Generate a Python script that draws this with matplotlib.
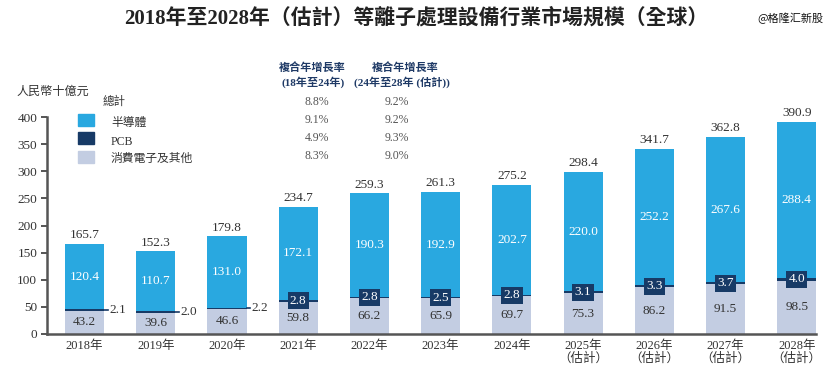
import matplotlib
matplotlib.use("Agg")
import matplotlib.pyplot as plt
from matplotlib.patches import Rectangle

# ------------------------------------------------------------------
# Data
# ------------------------------------------------------------------
years = ["2018年", "2019年", "2020年", "2021年", "2022年", "2023年", "2024年",
         "2025年\n（估計）", "2026年\n（估計）", "2027年\n（估計）", "2028年\n（估計）"]
consumer = [43.2, 39.6, 46.6, 59.8, 66.2, 65.9, 69.7, 75.3, 86.2, 91.5, 98.5]
pcb = [2.1, 2.0, 2.2, 2.8, 2.8, 2.5, 2.8, 3.1, 3.3, 3.7, 4.0]
semi = [120.4, 110.7, 131.0, 172.1, 190.3, 192.9, 202.7, 220.0, 252.2, 267.6, 288.4]
totals = [165.7, 152.3, 179.8, 234.7, 259.3, 261.3, 275.2, 298.4, 341.7, 362.8, 390.9]

legend_labels = ["半導體", "PCB", "消費電子及其他"]
cagr_18_24 = ["8.8%", "9.1%", "4.9%", "8.3%"]
cagr_24_28 = ["9.2%", "9.2%", "9.3%", "9.0%"]

C_SEMI = "#29a8e0"
C_PCB = "#173a66"
C_CONS = "#c3cde2"
C_TEXT = "#333333"
C_HEAD = "#1f3a66"

FONT = ["Liberation Serif", "Noto Sans CJK TC", "DejaVu Sans"]
plt.rcParams["font.family"] = FONT

W, H = 830, 376


def fx(px):
    return px / W


def fy(py):
    return 1 - py / H


fig = plt.figure(figsize=(8.3, 3.76), dpi=100)
ax = fig.add_axes([fx(47), fy(334), fx(816) - fx(47), 217 / H])

x = list(range(len(years)))
bw = 0.55
bottom_pcb = consumer
bottom_semi = [c + p for c, p in zip(consumer, pcb)]

ax.bar(x, consumer, width=bw, color=C_CONS, zorder=2)
ax.bar(x, pcb, width=bw, bottom=bottom_pcb, color=C_PCB, zorder=2)
ax.bar(x, semi, width=bw, bottom=bottom_semi, color=C_SEMI, zorder=2)

for i in x:
    # totals above bars
    ax.annotate(f"{totals[i]:.1f}", (i, totals[i]), xytext=(0, 2),
                textcoords="offset points", ha="center", va="bottom",
                fontsize=9.5, color=C_TEXT)
    # semiconductor inside
    ax.text(i, bottom_semi[i] + semi[i] / 2, f"{semi[i]:.1f}", ha="center",
            va="center", fontsize=9.5, color="white")
    # consumer inside
    ax.text(i, consumer[i] / 2, f"{consumer[i]:.1f}", ha="center",
            va="center", fontsize=9.5, color=C_TEXT)
    # pcb
    ymid = consumer[i] + pcb[i] / 2
    if i < 3:
        ax.plot([i + bw / 2, i + bw / 2 + 0.05], [ymid, ymid], color=C_PCB,
                lw=1.2, zorder=3, clip_on=False)
        ax.text(i + bw / 2 + 0.07, ymid, f"{pcb[i]:.1f}", ha="left",
                va="center", fontsize=9.5, color=C_TEXT)
    else:
        ax.text(i, ymid, f"{pcb[i]:.1f}", ha="center", va="center",
                fontsize=9.5, color="white", zorder=4,
                bbox=dict(boxstyle="square,pad=0.18", fc=C_PCB, ec="none"))

# ------------------------------------------------------------------
# Axes formatting
# ------------------------------------------------------------------
ax.set_xlim(-0.527, 10.27)
ax.set_ylim(0, 400)
ax.set_yticks(range(0, 401, 50))
ax.set_xticks(x)
ax.set_xticklabels(years, fontsize=9, color=C_TEXT, linespacing=1.05)
ax.tick_params(axis="x", length=0, pad=4)
ax.tick_params(axis="y", direction="out", length=4, width=1.4,
               color="#555555", labelsize=9.5, labelcolor=C_TEXT, pad=3)
for side in ["top", "right"]:
    ax.spines[side].set_visible(False)
for side in ["left", "bottom"]:
    ax.spines[side].set_color("#555555")
    ax.spines[side].set_linewidth(1.8)

# ------------------------------------------------------------------
# Title, unit, legend, CAGR table
# ------------------------------------------------------------------
fig.text(fx(416), fy(18), "2018年至2028年（估計）等離子處理設備行業市場規模（全球）",
         ha="center", va="center", fontsize=15, fontweight="bold", color="#222222")
fig.text(fx(790), fy(18), "@格隆汇新股", ha="center", va="center", fontsize=8,
         color="#111111", family=["Noto Sans CJK SC", "DejaVu Sans"])
fig.text(fx(16), fy(92), "人民幣十億元", ha="left", va="center", fontsize=8.7,
         color=C_TEXT)

fig.text(fx(103), fy(102), "總計", ha="left", va="center", fontsize=8.3, color=C_TEXT)
sq_y = [120, 138, 157]
lab_y = [123, 142, 159]
for col, sy, ly, lab in zip([C_SEMI, C_PCB, C_CONS], sq_y, lab_y, legend_labels):
    fig.patches.append(Rectangle((fx(78), fy(sy + 6)), fx(94) - fx(78), 12 / H,
                                 transform=fig.transFigure, color=col))
    fig.text(fx(111), fy(ly), lab, ha="left", va="center", fontsize=8.5, color=C_TEXT)

fig.text(fx(312), fy(68), "複合年增長率", ha="center", va="center", fontsize=8,
         fontweight="bold", color=C_HEAD)
fig.text(fx(313), fy(82), "(18年至24年)", ha="center", va="center", fontsize=8,
         fontweight="bold", color=C_HEAD)
fig.text(fx(405), fy(68), "複合年增長率", ha="center", va="center", fontsize=8,
         fontweight="bold", color=C_HEAD)
fig.text(fx(402), fy(82), "(24年至28年 (估計))", ha="center", va="center", fontsize=8,
         fontweight="bold", color=C_HEAD)

row_y = [102, 120, 138, 156]
for ry, a, b in zip(row_y, cagr_18_24, cagr_24_28):
    fig.text(fx(317), fy(ry), a, ha="center", va="center", fontsize=8.5, color="#555555")
    fig.text(fx(397), fy(ry), b, ha="center", va="center", fontsize=8.5, color="#555555")

fig.savefig("out.png", dpi=100)
plt.close(fig)
